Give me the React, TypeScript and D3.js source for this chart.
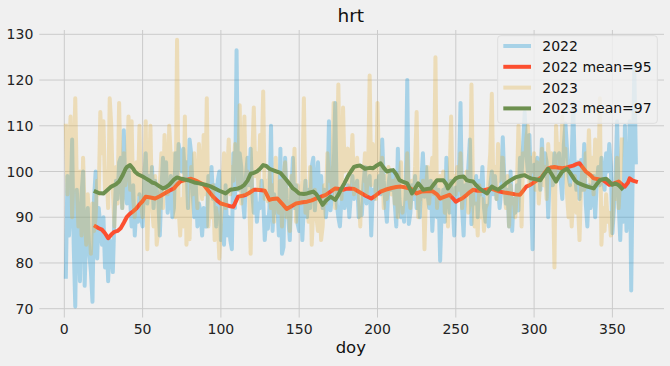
import React from "react";
import * as d3 from "d3";

// daily hrt, 2022 (doy 1..365)
const hrt2022 = [
  77, 99, 86, 92, 107, 84, 70.5, 96, 88, 76,
  95, 100, 75, 87, 92, 82, 78, 71.5, 94, 100,
  81, 92, 88, 84, 90, 79, 86, 76, 85, 84,
  78, 90, 98, 94, 102, 103, 92, 109, 96, 93,
  101, 94, 88, 97, 86, 92, 89, 95, 90, 88,
  98, 104, 93, 99, 95, 101, 92, 98, 96, 94,
  86, 96, 103, 97, 102, 91, 94, 99, 90, 92,
  104, 98, 106, 103, 100, 105, 99, 102, 92, 107,
  104, 95, 90, 97, 88, 93, 91, 86, 92, 88,
  88, 99, 96, 101, 94, 97, 88, 98, 100, 85,
  88, 84, 97, 86, 90, 85, 83, 104, 92, 126.5,
  96, 104, 101, 94, 90, 99, 103, 97, 105, 95.5,
  91, 96, 89, 93, 92, 98, 94, 85, 90, 87.5,
  92, 110, 87, 95, 91, 93, 86, 105, 82, 83.5,
  103, 94, 90, 85, 96, 103, 92, 97, 88.5, 87,
  95, 85, 93, 98, 90, 96, 92, 101, 103, 91.5,
  97, 102, 94, 99, 92, 96, 90, 93, 111, 91.5,
  95, 100, 115, 93, 90, 88, 94, 96, 92, 95.5,
  97, 90, 95, 99, 94, 96, 98, 90, 92, 90.5,
  97, 101, 93, 95, 99, 86, 96, 94, 98, 95.5,
  99, 95, 107, 98, 93, 89, 97, 100, 96, 99.5,
  93, 88, 105, 94, 90, 92, 89, 95, 120, 88.5,
  91, 97, 94, 99, 92, 96, 90, 98, 104, 94.5,
  101, 95, 92, 98, 87, 94, 97, 90, 96, 80.5,
  92, 96, 89, 103, 95, 91, 98, 93, 86, 96.5,
  94, 99, 115, 92, 86, 97, 95, 101, 107, 88.5,
  96, 93, 99, 90, 98, 95, 101, 92, 89, 92.5,
  88, 97, 100, 95, 99, 94, 96, 92, 96, 107.5,
  98, 93, 96, 88, 100, 87, 94, 91, 97, 91.5,
  103, 99, 106, 113, 104, 100, 108, 97, 83, 101.5,
  98, 103, 101, 96, 107, 99, 104, 102, 90, 99.5,
  101, 97, 104, 99, 103, 104, 98, 94, 106, 110.5,
  105, 99, 97, 103, 115, 100, 96, 102, 94, 102.5,
  96, 106, 93, 88, 97, 92, 94, 99, 90, 97.5,
  101, 97, 103, 99, 96, 104, 100, 106, 101, 86.5,
  92, 99, 111, 93, 85, 96, 89, 110, 87, 94.5,
  111, 74, 101, 123, 102,
];

// daily hrt, 2023 (doy 1..356)
const hrt2023 = [
  110, 95, 104, 112, 90, 101, 116, 97, 88, 100,
  86, 103, 91, 84, 95, 88, 82, 93, 87, 90,
  98, 95, 113, 104, 111, 96, 100, 92, 116, 110,
  96, 88, 101, 93, 115, 99, 92, 104, 97, 100,
  112, 96, 111, 94, 90, 102, 95, 110, 93, 90,
  96, 111, 83, 97, 110, 92, 88, 99, 84, 87,
  97, 104, 92, 108, 99, 95, 110, 103, 97, 104,
  90, 128.8, 92, 86, 94, 88, 112, 84, 91, 85.2,
  101, 95, 104, 97, 92, 106, 99, 94, 108, 95,
  116, 88, 94, 90, 97, 85, 92, 89, 81, 89,
  96, 104, 92, 99, 107, 95, 101, 98, 106, 105,
  97, 114.5, 93, 99, 112, 95, 100, 96, 82, 102.5,
  114, 99, 104, 96, 108, 101, 117.5, 94, 98, 93.5,
  100, 92, 97, 89, 103, 94, 91, 98, 88, 99,
  102, 90, 96, 87, 99, 93, 105, 89, 97, 95,
  93, 98, 116, 91, 95, 89, 101, 84, 92, 96,
  90, 87, 94, 85, 88, 97, 93, 104, 98, 99,
  96, 115, 92, 101, 119, 98, 94, 114, 100, 102,
  105, 97, 101, 108, 95, 99, 103, 96, 88, 101,
  98, 104, 95, 100, 121, 97, 106, 101, 94, 115,
  100, 96, 103, 92, 99, 94, 101, 97, 95, 98,
  93, 99, 90, 97, 102, 91, 96, 94, 104, 95,
  92, 98, 95, 101, 113, 90, 97, 94, 98, 83,
  96, 101, 93, 99, 103, 95, 125, 92, 98, 99,
  94, 100, 91, 97, 88, 98, 112, 95, 99, 95,
  101, 96, 104, 92, 98, 95, 100, 91, 93, 119,
  95, 88, 93, 86, 97, 90, 94, 87, 92, 93,
  99, 104, 117, 96, 101, 94, 106, 98, 103, 103,
  96, 92, 99, 88, 97, 93, 94, 90, 96, 110,
  101, 88, 104, 99, 107, 110, 97, 103, 100, 104,
  96, 102, 93, 99, 105, 97, 101, 94, 106, 100,
  104, 98, 79, 110, 103, 106, 99, 112, 101, 105,
  95, 90, 97, 88, 94, 99, 91, 93, 85, 97,
  101, 96, 104, 99, 109, 97, 103, 95, 107, 104,
  98, 116, 84, 92, 87, 95, 89, 91, 86, 89,
  97, 94, 103, 92, 99, 107,
];

// 20-day mean, 2022
const mean2022Days = [
  20, 22, 24, 26, 28, 30, 32, 34, 36, 38, 40, 42, 44, 46, 48, 50, 52, 55, 58, 61,
  64, 67, 70, 72, 74, 77, 81, 84, 87, 89, 92, 95, 98, 100, 103, 106, 108, 110, 111, 114,
  116, 118, 121, 123, 126, 128, 131, 133, 136, 139, 142, 145, 148, 151, 155, 158, 161, 164, 167, 170,
  173, 176, 178, 180, 182, 185, 187, 190, 193, 196, 199, 202, 205, 209, 212, 215, 218, 221, 223, 225,
  228, 231, 235, 238, 240, 243, 246, 248, 250, 252, 254, 257, 259, 261, 264, 267, 270, 272, 275, 278,
  281, 285, 288, 291, 293, 295, 297, 299, 302, 305, 307, 309, 311, 313, 316, 318, 320, 322, 325, 327,
  329, 331, 333, 336, 338, 341, 344, 346, 348, 351, 354, 356, 358, 360, 361, 363, 365,
];
const mean2022 = [
  88, 87.6, 87.3, 86.5, 85.4, 86.2, 86.8, 87, 87.6, 88.8, 90.1, 90.8, 91.3, 91.9, 92.8, 93.5, 94.5, 94.3, 94.1, 94.6,
  95.2, 95.8, 96.3, 97.1, 97.8, 98.1, 98.4, 98, 97.5, 97.1, 95.8, 94.5, 93.5, 93, 92.7, 92.4, 92.3, 93.8, 94.5, 94.7,
  94.9, 95.3, 96, 96, 95.9, 95.8, 93.8, 94, 94.1, 93, 91.8, 92.4, 93, 93.2, 93.4, 93.7, 94.1, 94.5, 94.9, 95.6,
  96.3, 96.2, 96, 96.2, 96.3, 96.2, 95.8, 95.2, 94.6, 94.1, 94.8, 95.6, 96, 96.4, 96.6, 96.7, 96.5, 96.3, 95.8, 95.2,
  95.6, 95.7, 95.7, 95, 94.1, 94.5, 94.9, 94.2, 93.4, 93.8, 94.1, 94.9, 95.5, 96, 95.8, 95.8, 96.1, 96.3, 96, 95.6,
  95.4, 95.2, 95, 94.9, 95.8, 96.7, 97, 97.4, 98.1, 98.8, 99.8, 100.7, 100.9, 101, 100.8, 100.7, 100.8, 101, 101.3, 101.6,
  101.8, 100.9, 100, 99.2, 98.5, 98.3, 98.1, 97.6, 97.1, 97.4, 97.8, 97.2, 96.7, 97.6, 98.5, 98, 97.8,
];

// 20-day mean, 2023
const mean2023Days = [
  20, 22, 25, 27, 30, 33, 35, 37, 39, 40, 42, 44, 45, 47, 50, 52, 54, 56, 58, 61,
  63, 65, 67, 70, 72, 75, 79, 83, 86, 90, 93, 96, 99, 103, 106, 108, 111, 113, 115, 117,
  119, 121, 123, 125, 127, 129, 131, 134, 138, 140, 142, 144, 146, 148, 150, 153, 155, 157, 159, 161,
  162, 164, 165, 167, 170, 173, 175, 177, 179, 181, 183, 185, 187, 189, 192, 195, 197, 199, 202, 204,
  206, 208, 210, 212, 214, 216, 219, 221, 222, 224, 226, 228, 229, 232, 234, 236, 238, 240, 242, 244,
  245, 247, 250, 252, 255, 257, 259, 261, 263, 265, 268, 270, 273, 275, 277, 280, 282, 285, 288, 291,
  294, 296, 298, 301, 304, 306, 309, 311, 314, 316, 318, 321, 323, 326, 328, 331, 334, 338, 340, 342,
  344, 346, 348, 350, 352, 354, 356,
];
const mean2023 = [
  95.6, 95.3, 95.2, 95.8, 96.7, 97.2, 97.8, 99, 100.5, 101, 101.4, 100.6, 100, 99.4, 98.9, 98.5, 98.1, 97.6, 97.4, 96.7,
  96.3, 96.6, 97.1, 98.2, 98.7, 98.4, 98.1, 97.6, 97.4, 97.1, 96.8, 96.3, 95.8, 95.2, 96, 96.1, 96.3, 96.6, 97.1, 98,
  99.5, 99.7, 100, 100.6, 101.4, 101.2, 100.6, 100.2, 99.7, 98.9, 98.1, 97.2, 96.3, 95.8, 95.2, 95.1, 95.2, 95.4, 95.6, 95,
  94.5, 93.3, 92.7, 93.6, 94.5, 93.8, 94.9, 96.3, 97.5, 98.9, 100, 101, 101.2, 101.3, 100.6, 100.8, 100.7, 101.2, 101.8, 100.8,
  100, 100.2, 100.3, 99.4, 98.1, 97.8, 97.4, 96, 95.2, 96.3, 97.4, 96.6, 96, 96.2, 96.3, 97.2, 98.1, 98.1, 98.1, 97.2,
  96.3, 97.3, 98.5, 98.8, 98.9, 98.1, 97.9, 97.8, 97, 96.3, 95.6, 95.2, 96.7, 96.3, 96, 96.8, 97.4, 98.1, 98.7, 99,
  99.2, 98.8, 98.5, 98.3, 98.1, 99.2, 100.6, 99.5, 97.8, 99, 100, 100.6, 99.7, 98.1, 97.5, 97.1, 96.7, 96.3, 97.2, 98.1,
  98.3, 98.4, 97.8, 97.1, 97.4, 97, 96.3,
];

const xTicks = [0, 50, 100, 150, 200, 250, 300, 350];
const yTicks = [70, 80, 90, 100, 110, 120, 130];
const legendLabels = ["2022", "2022 mean=95", "2023", "2023 mean=97"];

export default function App() {
  const width = 670, height = 366;
  const left = 39.3, right = 664, top = 30, bottom = 317.5;
  const font = "'DejaVu Sans', sans-serif";

  // x scale
  const x = d3.scaleLinear().domain([0, 350]).range([64.3, 612.4]);
  // y scale
  const y = d3.scaleLinear().domain([70, 130]).range([308.7, 34.3]);

  const rawLine = d3.line<number>()
    .x((d, i) => x(i + 1))
    .y(d => y(d));

  const meanLine = (days: number[]) => d3.line<number>()
    .x((d, i) => x(days[i]))
    .y(d => y(d));

  const series = [
    { label: legendLabels[0], color: "#008fd5", alpha: 0.3, d: rawLine(hrt2022) },
    { label: legendLabels[1], color: "#fc4f30", alpha: 1, d: meanLine(mean2022Days)(mean2022) },
    { label: legendLabels[2], color: "#e5ae38", alpha: 0.3, d: rawLine(hrt2023) },
    { label: legendLabels[3], color: "#6d904f", alpha: 1, d: meanLine(mean2023Days)(mean2023) },
  ];

  return (
    <svg width={width} height={height} style={{ display: "block", position: "absolute", left: 0, top: 0, background: "#f0f0f0" }}>
      <rect x={0} y={0} width={width} height={height} fill="#f0f0f0" />
      <g>
        {yTicks.map(t => (
          <g key={"y" + t}>
            <line x1={left} x2={right} y1={y(t)} y2={y(t)} stroke="#cbcbcb" strokeWidth={1} />
            <text x={33.3} y={y(t) + 5} textAnchor="end" fontFamily={font} fontSize={14} fill="#222">{t}</text>
          </g>
        ))}
        {xTicks.map(t => (
          <g key={"x" + t}>
            <line x1={x(t)} x2={x(t)} y1={top} y2={bottom} stroke="#cbcbcb" strokeWidth={1} />
            <text x={x(t)} y={334} textAnchor="middle" fontFamily={font} fontSize={14} fill="#222">{t}</text>
          </g>
        ))}
      </g>
      <g fill="none" strokeWidth={4} strokeLinejoin="round" strokeLinecap="square">
        {series.map(s => (
          <path key={s.label} d={s.d || ""} stroke={s.color} strokeOpacity={s.alpha} />
        ))}
      </g>
      <text x={350.8} y={21.7} textAnchor="middle" fontFamily={font} fontSize={18.5} fill="#111">hrt</text>
      <text x={350.8} y={353.3} textAnchor="middle" fontFamily={font} fontSize={16.5} fill="#111">doy</text>
      <g>
        <rect x={497.7} y={35.7} width={159.6} height={87.6} rx={3} fill="#f0f0f0" fillOpacity={0.8} stroke="#dedede" strokeWidth={1} />
        {series.map((s, i) => {
          const cy = 46 + i * 20.8;
          return (
            <g key={"lg" + s.label}>
              <line x1={503.3} x2={531} y1={cy} y2={cy} stroke={s.color} strokeOpacity={s.alpha} strokeWidth={4} />
              <text x={542.3} y={cy + 5} fontFamily={font} fontSize={14} fill="#111">{s.label}</text>
            </g>
          );
        })}
      </g>
    </svg>
  );
}
